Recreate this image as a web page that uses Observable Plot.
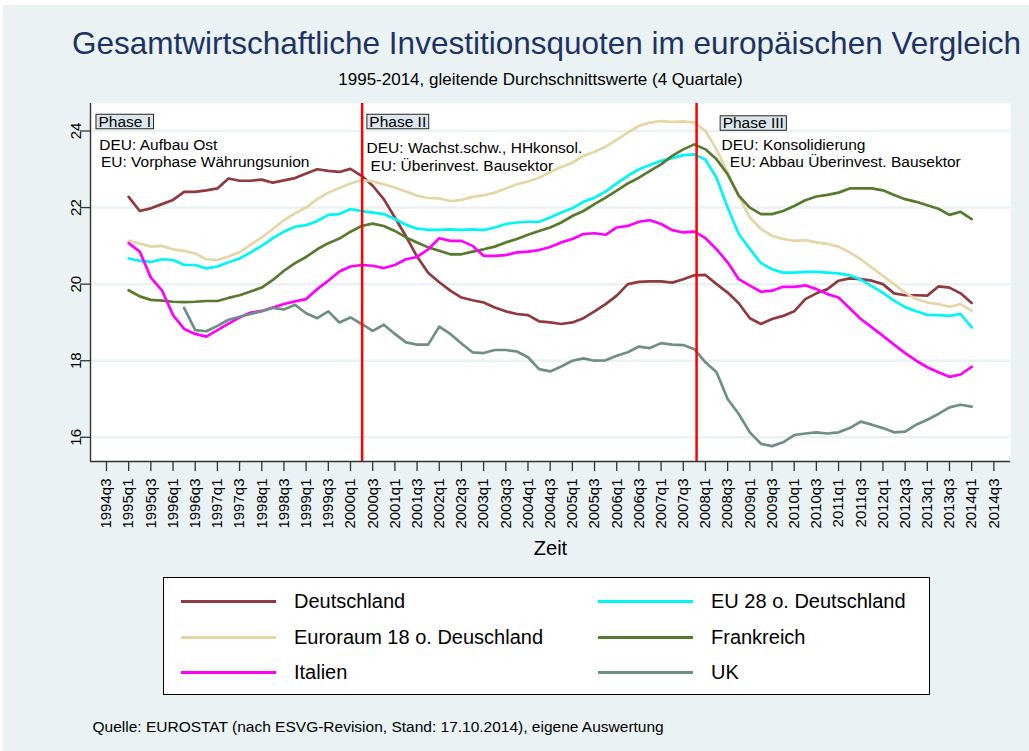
<!DOCTYPE html>
<html>
<head>
<meta charset="utf-8">
<script src="https://cdn.jsdelivr.net/npm/d3@7"></script>
<script src="https://cdn.jsdelivr.net/npm/@observablehq/plot@0.6"></script>
<style>
  html, body { margin: 0; padding: 0; background: #ffffff; }
  #root { position: relative; width: 1029px; height: 751px; overflow: hidden; font-family: "Liberation Sans", Arial, sans-serif; }
  #bg { position: absolute; left: 3px; top: 5px; right: 0; bottom: 0; background: #eaf2f3; }
  #root svg { position: absolute; left: 0; top: 0; }
  #legend { position: absolute; left: 163px; top: 577px; width: 767px; height: 118px; box-sizing: border-box; border: 1px solid #000; background: #fff; }
  .sw { position: absolute; width: 95px; height: 3px; }
  .lt { position: absolute; font-size: 20px; line-height: 24px; color: #000; white-space: pre; }
</style>
</head>
<body>
<div id="root"><div id="bg"></div></div>
<script>
// ---------- data (quarterly, starting 1995q1) ----------
const startQuarter = "1995q1";
const seriesNames = ["Deutschland", "EU 28 o. Deutschland", "Euroraum 18 o. Deuschland", "Frankreich", "Italien", "UK"];
const seriesColors = ["#8f3a3e", "#00f5f5", "#e6d6a6", "#587a2e", "#ff00ff", "#6f8f86"];

const deu = [22.28,21.91,21.98,22.09,22.2,22.41,22.41,22.45,22.5,22.76,22.7,22.7,22.73,22.65,22.71,22.77,22.89,23.0,22.96,22.93,23.01,
  22.83,22.57,22.22,21.74,21.25,20.72,20.3,20.05,19.83,19.65,19.58,19.52,19.39,19.29,19.22,19.19,19.03,19.0,18.96,19.0,
  19.11,19.29,19.48,19.7,20.0,20.06,20.07,20.07,20.04,20.13,20.23,20.24,
  20.0,19.78,19.5,19.11,18.96,19.09,19.17,19.29,19.61,19.76,19.87,20.09,20.15,20.13,20.09,20.0,19.76,19.71,19.71,19.7,
  19.94,19.91,19.76,19.51];
const eu28 = [20.67,20.61,20.58,20.65,20.63,20.5,20.5,20.41,20.46,20.57,20.67,20.83,21.0,21.2,21.37,21.5,21.54,21.65,21.81,21.83,21.96,
  21.91,21.87,21.83,21.7,21.55,21.45,21.42,21.42,21.43,21.42,21.43,21.41,21.48,21.57,21.61,21.63,21.63,21.74,21.87,21.98,
  22.15,22.26,22.42,22.63,22.83,23.0,23.11,23.22,23.29,23.37,23.39,23.25,
  22.78,22.0,21.31,20.92,20.55,20.39,20.3,20.3,20.32,20.32,20.3,20.28,20.23,20.12,19.95,19.77,19.57,19.4,19.29,19.2,
  19.19,19.17,19.22,18.87];
const euro18 = [21.13,21.06,20.98,21.0,20.91,20.87,20.8,20.65,20.63,20.72,20.83,21.03,21.22,21.44,21.67,21.85,22.0,22.22,22.39,22.51,22.63,
  22.72,22.68,22.61,22.52,22.42,22.31,22.25,22.24,22.17,22.2,22.28,22.32,22.39,22.5,22.61,22.68,22.78,22.93,23.06,23.17,
  23.35,23.46,23.59,23.77,23.96,24.13,24.22,24.26,24.24,24.25,24.22,24.0,
  23.52,22.9,22.3,21.74,21.44,21.26,21.18,21.13,21.15,21.09,21.05,20.98,20.83,20.65,20.43,20.22,20.0,19.78,19.61,19.52,
  19.48,19.41,19.48,19.31];
const fra = [19.84,19.68,19.59,19.57,19.54,19.53,19.54,19.56,19.56,19.64,19.71,19.81,19.91,20.11,20.35,20.55,20.71,20.91,21.07,21.19,21.37,
  21.52,21.58,21.52,21.39,21.22,21.09,20.96,20.87,20.78,20.78,20.85,20.91,20.98,21.09,21.18,21.29,21.39,21.48,21.61,21.78,
  21.91,22.09,22.26,22.44,22.63,22.78,22.96,23.13,23.35,23.52,23.65,23.52,
  23.26,22.87,22.31,22.0,21.83,21.83,21.91,22.04,22.19,22.29,22.33,22.39,22.5,22.5,22.5,22.45,22.33,22.22,22.15,22.06,
  21.97,21.81,21.89,21.7];
const ita = [21.07,20.85,20.17,19.84,19.19,18.83,18.7,18.63,18.8,18.97,19.13,19.26,19.3,19.39,19.48,19.55,19.61,19.87,20.09,20.33,20.46,
  20.5,20.48,20.42,20.5,20.65,20.71,20.91,21.2,21.13,21.13,21.0,20.74,20.74,20.76,20.83,20.85,20.89,20.97,21.09,21.18,
  21.31,21.33,21.29,21.48,21.52,21.63,21.67,21.57,21.41,21.35,21.37,21.2,
  20.91,20.57,20.13,19.96,19.8,19.83,19.93,19.93,19.97,19.87,19.74,19.65,19.37,19.09,18.87,18.65,18.42,18.2,18.0,17.83,
  17.7,17.58,17.64,17.84];
const uk = [null,null,null,null,null,19.38,18.8,18.77,18.91,19.07,19.15,19.22,19.29,19.38,19.34,19.46,19.24,19.11,19.29,19.0,19.13,
  18.96,18.78,18.94,18.7,18.48,18.42,18.42,18.89,18.7,18.45,18.22,18.2,18.28,18.28,18.24,18.09,17.78,17.72,17.85,18.0,
  18.06,18.0,18.01,18.13,18.22,18.37,18.33,18.46,18.42,18.41,18.3,17.96,
  17.7,17.0,16.61,16.13,15.83,15.77,15.87,16.06,16.1,16.13,16.1,16.13,16.24,16.41,16.33,16.24,16.13,16.15,16.33,16.46,
  16.61,16.78,16.85,16.8];
const seriesValues = [deu, eu28, euro18, fra, ita, uk];

const xTickLabels = ["1994q3","1995q1","1995q3","1996q1","1996q3","1997q1","1997q3","1998q1","1998q3","1999q1","1999q3",
  "2000q1","2000q3","2001q1","2001q3","2002q1","2002q3","2003q1","2003q3","2004q1","2004q3","2005q1","2005q3","2006q1",
  "2006q3","2007q1","2007q3","2008q1","2008q3","2009q1","2009q3","2010q1","2010q3","2011q1","2011q3","2012q1","2012q3",
  "2013q1","2013q3","2014q1","2014q3"];
const yTicks = [16, 18, 20, 22, 24];
const phaseBreaks = [21.05, 51.2];   // quarter positions of the red lines (2000q2, 2007q4)

const phaseLabels = [
  {q: -2.72, v: 24.24, text: "Phase I"},
  {q: 21.7, v: 24.24, text: "Phase II"},
  {q: 53.55, v: 24.2, text: "Phase III"}
];
const phaseNotes = [
  {q: -2.65, v: 23.64, text: "DEU: Aufbau Ost"},
  {q: -2.5, v: 23.19, text: "EU: Vorphase Währungsunion"},
  {q: 21.45, v: 23.56, text: "DEU: Wachst.schw., HHkonsol."},
  {q: 21.8, v: 23.09, text: "EU: Überinvest. Bausektor"},
  {q: 53.45, v: 23.64, text: "DEU: Konsolidierung"},
  {q: 54.2, v: 23.2, text: "EU: Abbau Überinvest. Bausektor"}
];

const titleText = "Gesamtwirtschaftliche Investitionsquoten im europäischen Vergleich";
const subtitleText = "1995-2014, gleitende Durchschnittswerte (4 Quartale)";
const xLabel = "Zeit";
const captionText = "Quelle: EUROSTAT (nach ESVG-Revision, Stand: 17.10.2014), eigene Auswertung";

// ---------- helpers ----------
const qIndex = s => (+s.slice(0, 4) - +startQuarter.slice(0, 4)) * 4 + (+s.slice(5) - +startQuarter.slice(5));
const xTickPos = xTickLabels.map(qIndex);
const labelOf = new Map(xTickLabels.map(s => [qIndex(s), s]));

const table = [];
seriesNames.forEach((name, k) => {
  seriesValues[k].forEach((v, i) => table.push({series: name, q: i, value: v}));
});

const font = '"Liberation Sans", Arial, sans-serif';
const xDomain = [-3.44, 79.5];
const yDomain = [15.368, 24.718];

const chart = Plot.plot({
  width: 1029,
  height: 751,
  marginLeft: 90,
  marginRight: 19,
  marginTop: 103,
  marginBottom: 290,
  style: {background: "transparent", fontFamily: font, color: "#000", overflow: "visible"},
  x: {domain: xDomain},
  y: {domain: yDomain},
  color: {domain: seriesNames, range: seriesColors},
  marks: [
    Plot.frame({fill: "#ffffff", stroke: null}),
    Plot.gridY(yTicks, {stroke: "#eaf2f3", strokeOpacity: 1, strokeWidth: 2.5}),
    Plot.line(table, {x: "q", y: "value", z: "series", stroke: "series", strokeWidth: 2.7, strokeLinejoin: "round"}),
    Plot.ruleX(phaseBreaks, {stroke: "#ff0000", strokeWidth: 2.5}),
    Plot.ruleX([xDomain[0]], {stroke: "#333", strokeWidth: 1.4}),
    Plot.ruleY([yDomain[0]], {stroke: "#333", strokeWidth: 1.4}),
    Plot.axisX(xTickPos, {tickSize: 10, tickFormat: () => "", label: null, stroke: "#333", strokeWidth: 1.3}),
    Plot.axisY(yTicks, {tickSize: 10, tickFormat: () => "", label: null, stroke: "#333", strokeWidth: 1.3}),
    Plot.text(xTickPos, {x: d => d, text: d => labelOf.get(d), frameAnchor: "bottom", rotate: -90, textAnchor: "end", lineAnchor: "middle", dy: 17, fontSize: 15}),
    Plot.text(yTicks, {y: d => d, text: d => String(d), frameAnchor: "left", rotate: -90, textAnchor: "middle", lineAnchor: "middle", dx: -14, fontSize: 15}),
    Plot.text(phaseLabels, {x: "q", y: "v", text: "text", textAnchor: "start", lineAnchor: "middle", fontSize: 15.5}),
    Plot.text(phaseNotes, {x: "q", y: "v", text: "text", textAnchor: "start", lineAnchor: "middle", fontSize: 15.5}),
    Plot.text([titleText], {frameAnchor: "top", dx: -4, dy: -60, fontSize: 31.5, fill: "#1e3264", textAnchor: "middle", lineAnchor: "middle"}),
    Plot.text([subtitleText], {frameAnchor: "top", dx: -10, dy: -24, fontSize: 17, fill: "#000", textAnchor: "middle", lineAnchor: "middle"}),
    Plot.text([xLabel], {frameAnchor: "bottom", dy: 87, fontSize: 20, textAnchor: "middle", lineAnchor: "middle"}),
    Plot.text([captionText], {frameAnchor: "bottom-left", dx: 2, dy: 266, fontSize: 15.5, textAnchor: "start", lineAnchor: "middle"})
  ]
});

const root = document.getElementById("root");
root.appendChild(chart);

// boxes behind the phase labels
const phaseSet = new Set(phaseLabels.map(d => d.text));
chart.querySelectorAll("text").forEach(t => {
  if (!phaseSet.has(t.textContent.trim())) return;
  const b = t.getBBox();
  const r = document.createElementNS("http://www.w3.org/2000/svg", "rect");
  r.setAttribute("x", b.x - 2.5);
  r.setAttribute("y", b.y + 1.5);
  r.setAttribute("width", b.width + 5);
  r.setAttribute("height", b.height - 2.5);
  r.setAttribute("fill", "#dce7ed");
  r.setAttribute("stroke", "#222");
  r.setAttribute("stroke-width", "1");
  if (t.getAttribute("transform")) r.setAttribute("transform", t.getAttribute("transform"));
  t.parentNode.insertBefore(r, t);
});

// legend
const legend = document.createElement("div");
legend.id = "legend";
const rowCenters = [23, 59, 94];
const colSwatch = [17, 434];
const colText = [130, 547];
seriesNames.forEach((name, k) => {
  const row = Math.floor(k / 2), col = k % 2;
  const sw = document.createElement("div");
  sw.className = "sw";
  sw.style.left = colSwatch[col] + "px";
  sw.style.top = (rowCenters[row] - 1.5) + "px";
  sw.style.background = seriesColors[k];
  legend.appendChild(sw);
  const lt = document.createElement("div");
  lt.className = "lt";
  lt.style.left = colText[col] + "px";
  lt.style.top = (rowCenters[row] - 12) + "px";
  lt.textContent = name;
  legend.appendChild(lt);
});
root.appendChild(legend);
</script>
</body>
</html>
